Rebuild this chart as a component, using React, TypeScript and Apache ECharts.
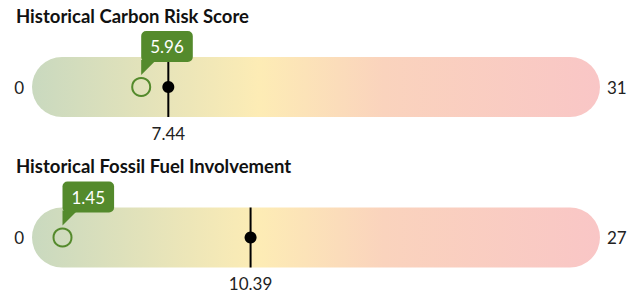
import React, { useEffect, useRef } from "react";
import * as echarts from "echarts";

const titles = ["Historical Carbon Risk Score", "Historical Fossil Fuel Involvement"];
const minValues = [0, 0];
const maxValues = [31, 27];
const benchmarkValues = [7.44, 10.39];
const fundValues = [5.96, 1.45];

const gradientStops = [
  { offset: 0, color: "#c9d9bf" },
  { offset: 0.4, color: "#fdecb5" },
  { offset: 0.62, color: "#fad3bd" },
  { offset: 1, color: "#f9c6c6" },
];
const GREEN = "#548a2c";
const FONT = "Lato, 'Noto Sans', sans-serif";

function renderGauge(params: any, api: any) {
  const bench = api.value(0);
  const fund = api.value(1);
  const mn = api.value(2);
  const mx = api.value(3);
  const c0 = api.coord([mn, 0]);
  const c1 = api.coord([mx, 0]);
  const cy = c0[1];
  const h = api.size([0, 1])[1];
  const top = cy - h / 2;
  const bottom = cy + h / 2;
  const xb = api.coord([bench, 0])[0];
  const xf = api.coord([fund, 0])[0];
  const boxTop = cy - 56;
  const boxH = 31;
  return {
    type: "group",
    children: [
      {
        type: "rect",
        shape: { x: c0[0], y: top, width: c1[0] - c0[0], height: h, r: h / 2 },
        style: { fill: new echarts.graphic.LinearGradient(0, 0, 1, 0, gradientStops) },
      },
      {
        type: "text",
        style: {
          text: String(mn),
          x: c0[0] - 8,
          y: cy,
          align: "right",
          verticalAlign: "middle",
          fill: "#222",
          font: `17px ${FONT}`,
        },
      },
      {
        type: "text",
        style: {
          text: String(mx),
          x: c1[0] + 7,
          y: cy,
          align: "left",
          verticalAlign: "middle",
          fill: "#222",
          font: `17px ${FONT}`,
        },
      },
      {
        type: "line",
        shape: { x1: xb, y1: top, x2: xb, y2: bottom },
        style: { stroke: "#000", lineWidth: 2 },
      },
      {
        type: "circle",
        shape: { cx: xb, cy, r: 6 },
        style: { fill: "#000" },
      },
      {
        type: "text",
        style: {
          text: bench.toFixed(2),
          x: xb,
          y: bottom + 16,
          align: "center",
          verticalAlign: "middle",
          fill: "#222",
          font: `17px ${FONT}`,
        },
      },
      {
        type: "circle",
        shape: { cx: xf, cy, r: 9 },
        style: { fill: "none", stroke: GREEN, lineWidth: 2 },
      },
      {
        type: "polygon",
        shape: {
          points: [
            [xf, boxTop + boxH - 2],
            [xf + 15, boxTop + boxH - 2],
            [xf, cy - 12],
          ],
        },
        style: { fill: GREEN },
      },
      {
        type: "text",
        style: {
          text: fund.toFixed(2),
          x: xf,
          y: boxTop,
          align: "left",
          verticalAlign: "top",
          fill: "#fff",
          font: `17px ${FONT}`,
          backgroundColor: GREEN,
          padding: [6, 9, 6, 9],
          lineHeight: 19,
          borderRadius: 5,
        },
      },
    ],
  };
}

export default function App() {
  const ref = useRef<HTMLDivElement>(null);
  useEffect(() => {
    document.body.style.margin = "0";
    if (!ref.current) return;
    const chart = echarts.init(ref.current, undefined, { renderer: "svg" });
    const tops = [57, 207.5];
    chart.setOption({
      animation: false,
      title: titles.map((t, i) => ({
        text: t,
        left: 16,
        top: tops[i] - 51,
        padding: 0,
        textStyle: { fontFamily: FONT, fontSize: 18.5, fontWeight: "bold", color: "#111" },
      })),
      grid: tops.map((t) => ({ left: 32, right: 43, top: t, height: 60 })),
      xAxis: maxValues.map((mx, i) => ({
        type: "value",
        gridIndex: i,
        min: minValues[i],
        max: mx,
        show: false,
      })),
      yAxis: titles.map((_, i) => ({
        type: "category",
        gridIndex: i,
        data: ["v"],
        show: false,
      })),
      series: titles.map((_, i) => ({
        type: "custom",
        xAxisIndex: i,
        yAxisIndex: i,
        clip: false,
        encode: { x: [0, 1, 2, 3], y: 4 },
        renderItem: renderGauge,
        data: [[benchmarkValues[i], fundValues[i], minValues[i], maxValues[i], 0]],
      })),
    });
    return () => chart.dispose();
  }, []);
  return <div ref={ref} style={{ width: 643, height: 293 }} />;
}
